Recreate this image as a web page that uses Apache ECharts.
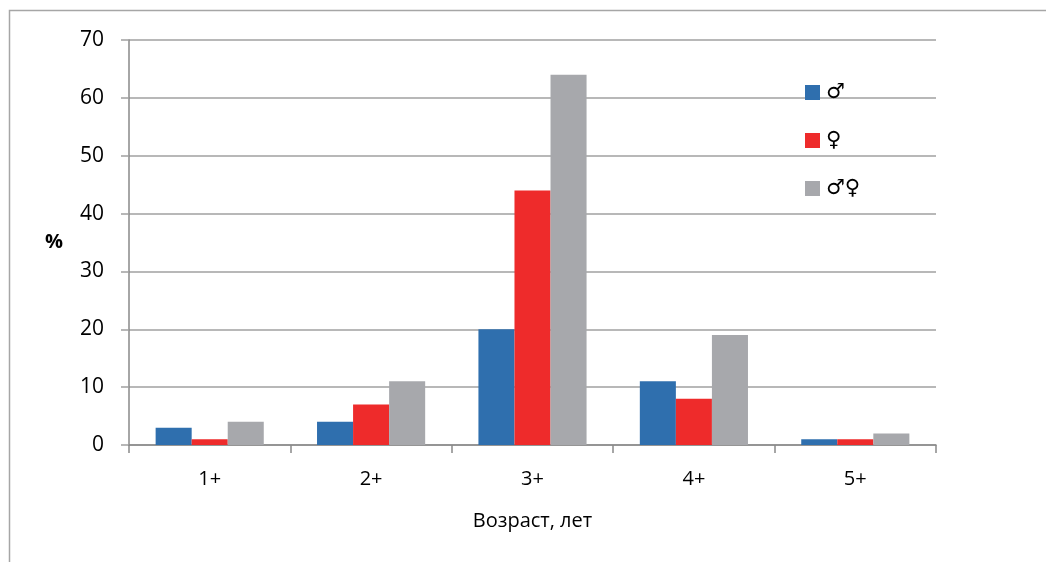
<!DOCTYPE html>
<html><head><meta charset="utf-8">
<script src="https://cdn.jsdelivr.net/npm/echarts@6/dist/echarts.min.js"></script>
<style>html,body{margin:0;padding:0;background:#fff}#c{width:1046px;height:562px}</style>
</head><body><div id="c"></div>
<script>
const categories = ['1+', '2+', '3+', '4+', '5+'];
const males = [3, 4, 20, 11, 1];
const females = [1, 7, 44, 8, 1];
const both = [4, 11, 64, 19, 2];
const seriesNames = ['♂', '♀', '♂♀'];
const colors = ['#2F6FAE', '#EE2B2B', '#A7A8AC'];
const font = '"Open Sans", "DejaVu Sans", sans-serif';

const chart = echarts.init(document.getElementById('c'), null, {renderer: 'canvas'});
chart.setOption({
  animation: false,
  graphic: [{
    type: 'rect', shape: {x: 9.5, y: 10.5, width: 1100, height: 600},
    style: {fill: 'none', stroke: '#A6A6A6', lineWidth: 1.5}, silent: true, z: -1
  }],
  grid: {left: 129, right: 110, top: 40, bottom: 117, containLabel: false},
  legend: {
    orient: 'vertical', left: 805, top: 82, itemWidth: 15, itemHeight: 15, itemGap: 27,
    icon: 'rect', padding: 0,
    textStyle: {fontFamily: '"DejaVu Sans", sans-serif', fontSize: 21, lineHeight: 15, color: '#000', padding: [4, 0, 0, 1]},
    data: seriesNames
  },
  xAxis: {
    type: 'category', data: categories,
    name: 'Возраст, лет', nameLocation: 'middle', nameGap: 66,
    nameTextStyle: {fontFamily: font, fontSize: 20, color: '#000'},
    axisLine: {lineStyle: {color: '#898989', width: 1.5}},
    axisTick: {show: true, length: 8, lineStyle: {color: '#898989', width: 1.5}},
    axisLabel: {fontFamily: font, fontSize: 20, color: '#000', margin: 24}
  },
  yAxis: {
    type: 'value', min: 0, max: 70, interval: 10,
    name: '%', nameLocation: 'middle', nameGap: 66, nameRotate: 0,
    nameTextStyle: {fontFamily: font, fontSize: 20, fontWeight: 'bold', color: '#000'},
    axisLine: {show: true, lineStyle: {color: '#898989', width: 1.5}},
    axisTick: {show: true, length: 8, lineStyle: {color: '#A0A0A0', width: 1.5}},
    splitLine: {lineStyle: {color: '#A0A0A0', width: 1.5}},
    axisLabel: {fontFamily: font, fontSize: 21, color: '#000', margin: 25}
  },
  series: [
    {name: seriesNames[0], type: 'bar', data: males, itemStyle: {color: colors[0]}, barGap: '0%', barCategoryGap: '33%'},
    {name: seriesNames[1], type: 'bar', data: females, itemStyle: {color: colors[1]}, barGap: '0%', barCategoryGap: '33%'},
    {name: seriesNames[2], type: 'bar', data: both, itemStyle: {color: colors[2]}, barGap: '0%', barCategoryGap: '33%'}
  ]
});
</script></body></html>
